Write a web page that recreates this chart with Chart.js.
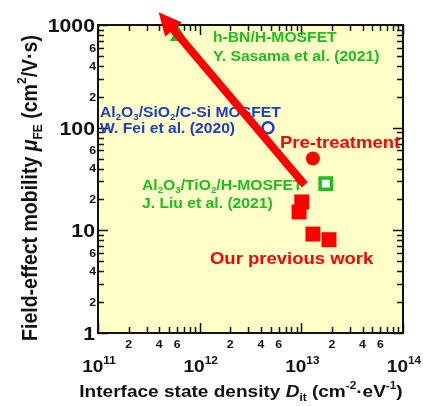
<!DOCTYPE html>
<html>
<head>
<meta charset="utf-8">
<script src="https://cdn.jsdelivr.net/npm/chart.js@4"></script>
<style>
  html, body { margin: 0; padding: 0; background: #ffffff; }
  canvas { display: block; }
</style>
</head>
<body>
<canvas id="mobilityChart" width="423" height="406"></canvas>
<script>
// ---- data (Dit in cm^-2 eV^-1, mobility in cm^2/Vs) ----
const hbnDit = [6.2e11];
const hbnMu = [780];
const feiDit = [4.7e12];
const feiMu = [100];
const liuDit = [1.74e13];
const liuMu = [28.5];
const preDit = [1.3e13];
const preMu = [50];
const prevDit = [1.01e13, 9.5e12, 1.3e13, 1.87e13];
const prevMu = [18.9, 15.1, 9.2, 8.1];
// arrow shaft: tail -> start of the arrow head
const arrowDit = [1.08e13, 5.45e11];
const arrowMu = [27.7, 915];

// ---- axis ticks ----
const xDecades = [11, 12, 13, 14];
const yDecades = [0, 1, 2, 3];
const yDecadeLabels = ['1', '10', '100', '1000'];
const minorLabelDigits = [2, 4, 6];

const RED = '#ff0000';
const GREEN = '#1dbf1d';
const BLUE = '#1e3ec4';
const BG = '#ffffc8';
const SX = 1.12; // the figure is slightly wider than tall
const FONT = '"Liberation Sans", Arial, sans-serif';

function toPoints(xs, ys) {
    return xs.map((x, i) => ({ x: x, y: ys[i] }));
}

// "Al_{2}O_{3}" -> parts, ^{} superscript, *{} italic
function parseRich(s) {
    const parts = [];
    const re = /([_^*])\{([^}]*)\}/g;
    let last = 0, m;
    while ((m = re.exec(s))) {
        if (m.index > last) parts.push({ t: s.slice(last, m.index), m: '' });
        parts.push({ t: m[2], m: m[1] });
        last = re.lastIndex;
    }
    if (last < s.length) parts.push({ t: s.slice(last), m: '' });
    return parts;
}

function drawRich(ctx, s, x, y, size, color, align, rotate) {
    const parts = parseRich(s);
    const fontOf = p => {
        const small = p.m === '_' || p.m === '^';
        return `${p.m === '*' ? 'italic ' : ''}bold ${small ? size * 0.62 : size}px ${FONT}`;
    };
    ctx.save();
    ctx.translate(x, y);
    if (rotate) {
        ctx.rotate(rotate);
        ctx.scale(1, SX);
    } else {
        ctx.scale(SX, 1);
    }
    ctx.fillStyle = color;
    ctx.textBaseline = 'alphabetic';
    ctx.textAlign = 'left';
    let total = 0;
    const widths = parts.map(p => {
        ctx.font = fontOf(p);
        const w = ctx.measureText(p.t).width;
        total += w;
        return w;
    });
    let cx = align === 'center' ? -total / 2 : (align === 'right' ? -total : 0);
    const base = size * 0.36;
    parts.forEach((p, i) => {
        ctx.font = fontOf(p);
        let dy = 0;
        if (p.m === '_') dy = size * 0.22;
        if (p.m === '^') dy = -size * 0.48;
        ctx.fillText(p.t, cx, base + dy);
        cx += widths[i];
    });
    ctx.restore();
}

// text labels inside the plot (pixel positions: left edge, middle)
const annotations = [
    { text: 'h-BN/H-MOSFET', x: 213, y: 37, size: 14, color: GREEN },
    { text: 'Y. Sasama et al. (2021)', x: 213, y: 56, size: 14, color: GREEN },
    { text: 'Al_{2}O_{3}/SiO_{2}/C-Si MOSFET', x: 100, y: 112, size: 14, color: BLUE },
    { text: 'W. Fei et al. (2020)', x: 100, y: 128, size: 14, color: BLUE },
    { text: 'Pre-treatment', x: 280, y: 142, size: 16.5, color: RED },
    { text: 'Al_{2}O_{3}/TiO_{2}/H-MOSFET', x: 142, y: 185, size: 14, color: GREEN },
    { text: 'J. Liu et al. (2021)', x: 142, y: 203, size: 14, color: GREEN },
    { text: 'Our previous work', x: 210, y: 258, size: 16.5, color: RED }
];

// frame, inward ticks on all sides, tick labels, axis titles, annotations
const framePlugin = {
    id: 'framePlugin',
    beforeDraw(chart) {
        const { ctx, chartArea: a } = chart;
        ctx.save();
        ctx.fillStyle = BG;
        ctx.fillRect(a.left, a.top, a.right - a.left, a.bottom - a.top);
        ctx.restore();
    },
    beforeDatasetsDraw(chart) {
        const { ctx, chartArea: a, scales } = chart;
        const xs = scales.x, ys = scales.y;
        ctx.save();
        ctx.strokeStyle = '#111111';
        ctx.lineWidth = 1.5;
        ctx.beginPath();
        // x ticks
        xDecades.forEach((d, di) => {
            for (let m = 1; m <= 9; m++) {
                if (m > 1 && di === xDecades.length - 1) break;
                const px = Math.round(xs.getPixelForValue(m * Math.pow(10, d))) + 0.5;
                const len = m === 1 ? 10 : 6;
                ctx.moveTo(px, a.bottom); ctx.lineTo(px, a.bottom - len);
                ctx.moveTo(px, a.top); ctx.lineTo(px, a.top + len);
            }
        });
        // y ticks
        yDecades.forEach((d, di) => {
            for (let m = 1; m <= 9; m++) {
                if (m > 1 && di === yDecades.length - 1) break;
                const py = Math.round(ys.getPixelForValue(m * Math.pow(10, d))) + 0.5;
                const len = m === 1 ? 10 : 6;
                ctx.moveTo(a.left, py); ctx.lineTo(a.left + len, py);
                ctx.moveTo(a.right, py); ctx.lineTo(a.right - len, py);
            }
        });
        ctx.stroke();
        ctx.lineWidth = 2;
        ctx.strokeRect(a.left, a.top, a.right - a.left, a.bottom - a.top);
        ctx.restore();

        // tick labels
        xDecades.forEach((d, di) => {
            const px = xs.getPixelForValue(Math.pow(10, d));
            drawRich(ctx, '10^{' + d + '}', px + 1, 366, 17, '#111111', 'center');
            if (di < xDecades.length - 1) {
                minorLabelDigits.forEach(n => {
                    drawRich(ctx, String(n), xs.getPixelForValue(n * Math.pow(10, d)), 344, 11, '#111111', 'center');
                });
            }
        });
        yDecades.forEach((d, di) => {
            const py = ys.getPixelForValue(Math.pow(10, d));
            drawRich(ctx, yDecadeLabels[di], 95, py, 19, '#111111', 'right');
            if (di < yDecades.length - 1) {
                minorLabelDigits.forEach(n => {
                    drawRich(ctx, String(n), 96, ys.getPixelForValue(n * Math.pow(10, d)), 11, '#111111', 'right');
                });
            }
        });

        // axis titles
        drawRich(ctx, 'Interface state density *{D}_{it} (cm^{-2}·eV^{-1})', 241, 391, 17, '#111111', 'center');
        drawRich(ctx, 'Field-effect mobility *{μ}_{FE} (cm^{2}/V·s)', 29, 188, 19.5, '#111111', 'center', -Math.PI / 2);

        annotations.forEach(t => drawRich(ctx, t.text, t.x, t.y, t.size, t.color, 'left'));
    },
    afterDatasetsDraw(chart) {
        // arrow head on the end of the first dataset
        const pts = chart.getDatasetMeta(0).data;
        const p0 = pts[0], p1 = pts[pts.length - 1];
        const dx = p1.x - p0.x, dy = p1.y - p0.y;
        const len = Math.hypot(dx, dy);
        const ux = dx / len, uy = dy / len;
        const headLen = 22, half = 11;
        const ctx = chart.ctx;
        ctx.save();
        ctx.fillStyle = RED;
        ctx.beginPath();
        ctx.moveTo(p1.x + ux * headLen, p1.y + uy * headLen);
        ctx.lineTo(p1.x - ux * 1 - uy * half, p1.y - uy * 1 + ux * half);
        ctx.lineTo(p1.x - ux * 1 + uy * half, p1.y - uy * 1 - ux * half);
        ctx.closePath();
        ctx.fill();
        ctx.restore();
    }
};

const chart = new Chart(document.getElementById('mobilityChart'), {
    type: 'scatter',
    data: {
        datasets: [
            {
                label: 'arrow',
                data: toPoints(arrowDit, arrowMu),
                showLine: true,
                borderColor: RED,
                borderWidth: 8,
                borderCapStyle: 'butt',
                pointRadius: 0,
                clip: false
            },
            {
                label: 'Our previous work',
                data: toPoints(prevDit, prevMu),
                pointStyle: 'rect',
                pointRadius: 10.6,
                backgroundColor: RED,
                borderWidth: 0
            },
            {
                label: 'Pre-treatment',
                data: toPoints(preDit, preMu),
                pointStyle: 'circle',
                pointRadius: 7,
                backgroundColor: RED,
                borderWidth: 0
            },
            {
                label: 'J. Liu et al. (2021)',
                data: toPoints(liuDit, liuMu),
                pointStyle: 'rect',
                pointRadius: 8,
                backgroundColor: '#ffffff',
                borderColor: GREEN,
                borderWidth: 3.5
            },
            {
                label: 'W. Fei et al. (2020)',
                data: toPoints(feiDit, feiMu),
                pointStyle: 'circle',
                pointRadius: 5.5,
                backgroundColor: '#ffffff',
                borderColor: BLUE,
                borderWidth: 2.5
            },
            {
                label: 'Y. Sasama et al. (2021)',
                data: toPoints(hbnDit, hbnMu),
                pointStyle: 'triangle',
                pointRadius: 10,
                backgroundColor: GREEN,
                borderWidth: 0
            }
        ]
    },
    options: {
        responsive: false,
        animation: false,
        events: [],
        layout: { padding: { left: 98, right: 20, top: 25, bottom: 73 } },
        plugins: {
            legend: { display: false },
            tooltip: { enabled: false }
        },
        scales: {
            x: { type: 'logarithmic', min: 1e11, max: 1e14, display: false },
            y: { type: 'logarithmic', min: 1, max: 1000, display: false }
        }
    },
    plugins: [framePlugin]
});
</script>
</body>
</html>
